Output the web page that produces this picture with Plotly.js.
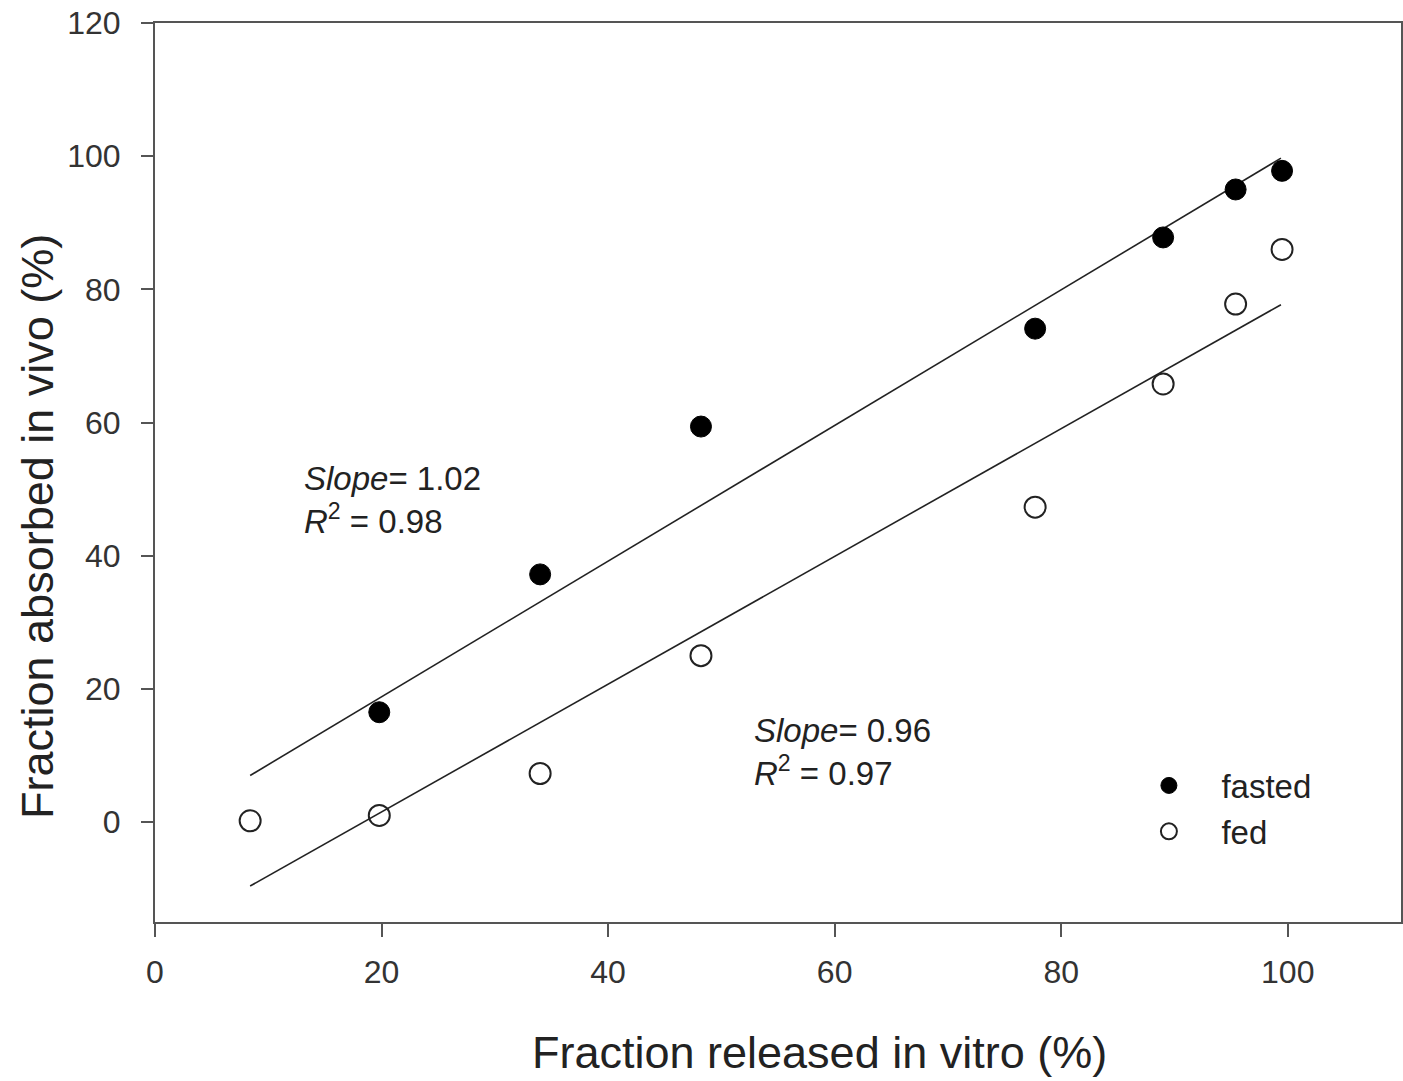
<!DOCTYPE html>
<html>
<head>
<meta charset="utf-8">
<script src="https://cdn.plot.ly/plotly-3.0.1.min.js"></script>
<style>html,body{margin:0;padding:0;background:#fff;}#chart{width:1403px;height:1081px;}</style>
</head>
<body>
<div id="chart"></div>
<script>
// Data
const fastedX = [19.8, 34.0, 48.2, 77.7, 89.0, 95.4, 99.5];
const fastedY = [16.5, 37.2, 59.4, 74.1, 87.8, 95.0, 97.8];
const fedX = [8.4, 19.8, 34.0, 48.2, 77.7, 89.0, 95.4, 99.5];
const fedY = [0.2, 1.0, 7.3, 25.0, 47.3, 65.8, 77.8, 86.0];
// regression line end points
const fitX = [8.4, 99.4];
const fastedFitY = [7.0, 99.7];
const fedFitY = [-9.6, 77.7];
const xTicks = [0, 20, 40, 60, 80, 100];
const yTicks = [0, 20, 40, 60, 80, 100, 120];
const xTitle = "Fraction released in vitro (%)";
const yTitle = "Fraction absorbed in vivo (%)";
const annFasted = {x: 13.0, y: 48.4, text: "<i>Slope</i>= 1.02<br><i>R</i><sup>2</sup> = 0.98"};
const annFed = {x: 52.7, y: 10.6, text: "<i>Slope</i>= 0.96<br><i>R</i><sup>2</sup> = 0.97"};

const font = "Liberation Sans, Arial, sans-serif";
const ink = "#222";
const axisCol = "#555";

const traces = [
  {x: fitX, y: fastedFitY, mode: "lines", line: {color: "#222", width: 1.6}, showlegend: false, hoverinfo: "skip"},
  {x: fitX, y: fedFitY, mode: "lines", line: {color: "#222", width: 1.6}, showlegend: false, hoverinfo: "skip"},
  {x: fastedX, y: fastedY, mode: "markers", name: "fasted",
   marker: {symbol: "circle", size: 21, color: "#000", line: {color: "#000", width: 1}}},
  {x: fedX, y: fedY, mode: "markers", name: "fed",
   marker: {symbol: "circle-open", size: 21, color: "#222", line: {color: "#222", width: 2}}}
];

function ann(a) {
  return {x: a.x, y: a.y, xref: "x", yref: "y", text: a.text, showarrow: false,
    xanchor: "left", yanchor: "middle", align: "left",
    font: {family: font, size: 33, color: ink}};
}

const layout = {
  width: 1403, height: 1081,
  margin: {l: 155, r: 2, t: 23, b: 159},
  paper_bgcolor: "#fff", plot_bgcolor: "#fff",
  font: {family: font, color: ink},
  xaxis: {
    range: [0, 110], tickvals: xTicks, ticktext: xTicks.map(String),
    showgrid: false, zeroline: false,
    showline: true, linecolor: axisCol, linewidth: 2, mirror: true,
    ticks: "outside", ticklen: 13, tickwidth: 2, tickcolor: axisCol,
    tickfont: {family: font, size: 32, color: "#333"},
    ticklabelstandoff: 8
  },
  yaxis: {
    range: [-15, 120], tickvals: yTicks, ticktext: yTicks.map(String),
    showgrid: false, zeroline: false,
    showline: true, linecolor: axisCol, linewidth: 2, mirror: true,
    ticks: "outside", ticklen: 12, tickwidth: 2, tickcolor: axisCol,
    tickfont: {family: font, size: 32, color: "#333"},
    ticklabelstandoff: 14
  },
  legend: {
    x: 0.7716, y: 0.183, xanchor: "left", yanchor: "top",
    bgcolor: "rgba(0,0,0,0)", borderwidth: 0,
    font: {family: font, size: 33, color: ink},
    itemwidth: 95, tracegroupgap: 0
  },
  annotations: [
    ann(annFasted), ann(annFed),
    {text: xTitle, xref: "paper", yref: "paper", x: 0.5333, y: -0.1457,
     xanchor: "center", yanchor: "middle", showarrow: false,
     font: {family: font, size: 45, color: ink}},
    {text: yTitle, xref: "paper", yref: "paper", x: -0.0939, y: 0.4394, textangle: -90,
     xanchor: "center", yanchor: "middle", showarrow: false,
     font: {family: font, size: 45, color: ink}}
  ],
  showlegend: true
};

Plotly.newPlot("chart", traces, layout, {displayModeBar: false, staticPlot: true});
</script>
</body>
</html>
